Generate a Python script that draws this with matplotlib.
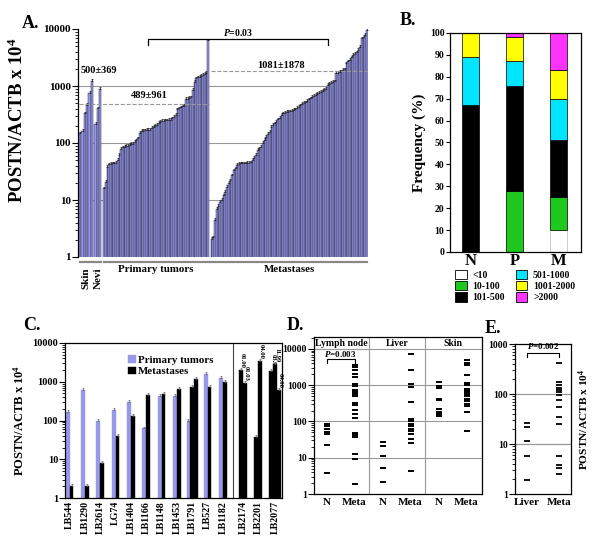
import numpy as np
import matplotlib.pyplot as plt
import matplotlib.transforms as mtransforms
from matplotlib.patches import Patch
from matplotlib.ticker import FixedLocator, FixedFormatter, LogLocator, NullFormatter

plt.rcParams['font.family'] = ['Liberation Serif', 'DejaVu Serif']
plt.rcParams['font.weight'] = 'bold'
plt.rcParams['axes.labelweight'] = 'bold'
plt.rcParams['mathtext.fontset'] = 'custom'
plt.rcParams['mathtext.rm'] = 'Liberation Serif:bold'
plt.rcParams['mathtext.it'] = 'Liberation Serif:italic:bold'
plt.rcParams['axes.linewidth'] = 0.9

# -------- data: panel A (POSTN/ACTB x 10^4, sorted per group) --------
skin = [148, 164, 330, 465, 760, 1240]
nevi = [215, 405, 880]
primary = [16, 21, 38, 42, 43, 44, 44, 45, 50, 62, 80, 84, 86, 88, 90, 93, 96, 98,
           105, 112, 120, 152, 162, 165, 166, 168, 170, 172, 185, 190, 200, 210, 225,
           238, 245, 248, 250, 250, 252, 258, 270, 290, 310, 390, 405, 420, 440, 445,
           590, 600, 615, 630, 850, 1190, 1370, 1420, 1460, 1500, 1560, 1620, 1710, 6300]
metastases = [2.1, 2.2, 4.5, 7, 8, 9.3, 10, 12, 14, 17, 20, 22, 27, 33, 36, 41, 43, 44,
              44, 44, 44, 45, 45, 46, 50, 55, 62, 75, 80, 85, 100, 113, 130, 145, 155,
              190, 210, 220, 235, 260, 280, 310, 330, 340, 350, 355, 360, 370, 380, 390,
              410, 430, 460, 480, 500, 520, 550, 580, 610, 640, 670, 700, 720, 750, 780,
              820, 850, 900, 1050, 1100, 1150, 1180, 1200, 1700, 1720, 1760, 1800, 1900,
              1950, 2500, 2700, 2900, 3200, 3500, 3700, 3900, 4300, 4800, 6900, 7300,
              7800, 9700]
group_names = ['Skin', 'Nevi', 'Primary tumors', 'Metastases']
mean_primary = 489
mean_meta = 1850

# -------- data: panel B (frequency %, stacked) --------
b_groups = ['N', 'P', 'M']
b_classes = ['<10', '10-100', '101-500', '501-1000', '1001-2000', '>2000']
b_colors = ['white', '#1ec81e', 'black', '#00e5ff', '#ffff00', '#ff33ff']
b_values = {
    '<10':       [0, 0, 10],
    '10-100':    [0, 28, 15],
    '101-500':   [67, 48, 26],
    '501-1000':  [22, 11, 19],
    '1001-2000': [11, 11, 13],
    '>2000':     [0, 2, 17],
}

# -------- data: panel C (paired samples) --------
c_samples = ['LB544', 'LB1290', 'LB2614', 'LG74', 'LB1404', 'LB1166', 'LB1148',
             'LB1453', 'LB1791', 'LB527', 'LB1182', 'LB2174', 'LB2201', 'LB2077']
c_primary = [170, 630, 100, 188, 300, 63, 440, 440, 100, 1600, 1260, None, None, None]
c_metastases = [[2.1], [2.1], [8.2], [40], [130], [460], [490], [660], [730, 1200],
                [730], [1000], [2000, 950], [38, 3500], [1950, 2900, 630]]
c_dates = [[], [], [], [], [], [], [], [], [], [], [], ['01.00', '01.03'],
           ['04.00', '04.00'], ['03.99', '11.99', '04.00']]

# -------- data: panel D (per-sample dots) --------
d_sites = ['Lymph node', 'Liver', 'Skin']
d_normal = [
    [85, 75, 62, 50, 45, 22, 3.9],
    [26.6, 21.5, 11.4, 5.3, 2.1],
    [1240, 950, 820, 430, 390, 215, 185, 158, 140],
]
d_meta = [
    [3600, 3100, 2600, 2100, 1700, 1050, 950, 720, 680, 650, 610, 580, 490, 320, 290,
     210, 165, 125, 48, 45, 42, 38, 13, 9.5, 1.9],
    [7100, 2600, 1110, 900, 340, 118, 100, 86, 75, 63, 53, 44, 33, 26, 4.4],
    [4950, 4200, 3600, 1900, 1150, 1080, 1000, 810, 750, 690, 640, 590, 540, 490, 425,
     370, 310, 260, 182, 56],
]

# -------- data: panel E --------
e_liver = [26.7, 22.3, 11.6, 5.75, 1.9]
e_meta = [410, 176, 150, 130, 120, 111, 96, 76, 54, 35, 25, 5.75, 3.8, 3.3, 2.5]

bar_blue = '#9898e8'
grey = '#999999'


def log_ticks(ax, ticks, size=7):
    ax.set_yscale('log')
    ax.yaxis.set_major_locator(FixedLocator(ticks))
    ax.yaxis.set_major_formatter(FixedFormatter([str(t) for t in ticks]))
    ax.yaxis.set_minor_locator(LogLocator(base=10, subs=np.arange(2, 10)))
    ax.yaxis.set_minor_formatter(NullFormatter())
    ax.tick_params(axis='y', which='major', length=4, width=0.8, labelsize=size, pad=1)
    ax.tick_params(axis='y', which='minor', length=2.5, width=0.6)


fig = plt.figure(figsize=(6, 5.43), dpi=100)
W, H = 600, 543


def rect(x0, y0, x1, y1):
    return [x0 / W, 1 - y1 / H, (x1 - x0) / W, (y1 - y0) / H]


# ================= A =================
axA = fig.add_axes(rect(78, 29, 368, 257))
groups = [skin, nevi, primary, metastases]
steps = [1.37, 1.37, 1.0, 1.0]
starts, ends = [], []
pos = 0.0
xs_all, vs_all, ws_all = [], [], []
for g, st in zip(groups, steps):
    xs = pos + np.arange(len(g)) * st
    starts.append(xs[0] - st / 2)
    ends.append(xs[-1] + st / 2)
    xs_all.extend(xs)
    vs_all.extend(g)
    ws_all.extend([st] * len(g))
    pos = xs[-1] + st / 2 + 1.0 + 0.5
xs_all = np.array(xs_all)
vs_all = np.array(vs_all, dtype=float)
for yv in [10, 100, 1000]:
    axA.axhline(yv, color=grey, lw=0.8, zorder=0)
axA.bar(xs_all, vs_all, width=ws_all, color=bar_blue, edgecolor='#2a2a44', linewidth=0.35,
        zorder=2)
axA.errorbar(xs_all, vs_all, yerr=[np.zeros_like(vs_all), vs_all * 0.07], fmt='none',
             ecolor='#222222', elinewidth=0.5, capsize=0.7, capthick=0.5, zorder=3)
log_ticks(axA, [1, 10, 100, 1000, 10000], size=8)
axA.set_ylim(1, 10000)
axA.set_xlim(starts[0] - 0.6, ends[3] + 0.1)
axA.set_xticks([])
for s in ['top', 'right', 'bottom']:
    axA.spines[s].set_visible(False)
axA.set_ylabel('POSTN/ACTB x 10$^4$', fontsize=13.5)
axA.yaxis.set_label_coords(-0.176, 0.6)

axA.plot([starts[0], ends[2]], [mean_primary] * 2, ls='--', color=grey, lw=0.8, zorder=4)
axA.plot([starts[3], ends[3]], [mean_meta] * 2, ls='--', color=grey, lw=0.8, zorder=4)

trA = mtransforms.blended_transform_factory(axA.transData, axA.transAxes)
for i, g in enumerate(groups):
    axA.plot([starts[i] + 0.3, ends[i] - 0.3], [-0.022, -0.022], color='#888888', lw=1.6,
             transform=trA, clip_on=False)
    cx = (starts[i] + ends[i]) / 2
    if i < 2:
        axA.text(cx, -0.045, group_names[i], rotation=90, ha='center', va='top',
                 fontsize=8, transform=trA)
    else:
        axA.text(cx, -0.035, group_names[i], ha='center', va='top', fontsize=7.8,
                 transform=trA)

axA.text(ends[1] - 1.5, 1900, '500±369', ha='center', va='center', fontsize=7.5)
axA.text(starts[2] + 27, 680, '489±961', ha='center', va='center', fontsize=7.5)
axA.text(starts[3] + 41, 2250, '1081±1878', ha='center', va='center', fontsize=7.5)
bl, br = starts[2] + 26, starts[3] + 68.5
axA.plot([bl, bl, br, br], [5200, 6700, 6700, 5200], color='black', lw=0.9, zorder=5)
axA.text((bl + br) / 2, 6900, '$P$=0.03', ha='center', va='bottom', fontsize=7)

# ================= B =================
axB = fig.add_axes(rect(450, 33, 581, 252))
xb = np.arange(len(b_groups))
bottom = np.zeros(len(b_groups))
for cls, col in zip(b_classes, b_colors):
    vals = np.array(b_values[cls], dtype=float)
    axB.bar(xb, vals, bottom=bottom, width=0.39, color=col,
            edgecolor='black' if col != 'white' else '#bbbbbb', linewidth=0.5, label=cls)
    bottom += vals
axB.set_xlim(-0.47, 2.51)
axB.set_ylim(0, 100)
axB.set_yticks(np.arange(0, 101, 10))
axB.set_xticks(xb)
axB.set_xticklabels(b_groups, fontsize=12)
axB.tick_params(axis='x', length=0, pad=1)
axB.tick_params(axis='y', length=3, labelsize=7, pad=1)
axB.set_ylabel('Frequency (%)', fontsize=11, labelpad=3)
handles = [Patch(facecolor=c, edgecolor='black', linewidth=0.6) for c in b_colors]
axB.legend(handles, b_classes, ncol=2, loc='upper left', bbox_to_anchor=(0.0, -0.06),
           frameon=False, fontsize=7, handlelength=1.2, handleheight=1.1,
           handletextpad=0.6, columnspacing=1.1, labelspacing=0.12, borderpad=0)

# ================= C =================
axC = fig.add_axes(rect(65, 343, 282, 498))
c_pos = [0, 1, 2, 3, 4, 5, 6, 7, 8, 9, 10, 11.3, 12.3, 13.4]
bw = 0.25
prim_drawn = False
meta_drawn = False
for i, xc in enumerate(c_pos):
    items = []
    if c_primary[i] is not None:
        items.append(('p', c_primary[i]))
    for m in c_metastases[i]:
        items.append(('m', m))
    n = len(items)
    offs = (np.arange(n) - (n - 1) / 2) * bw
    mi = 0
    for (kind, v), o in zip(items, offs):
        if kind == 'p':
            axC.bar(xc + o, v, width=bw, color=bar_blue, edgecolor=bar_blue, lw=0.3,
                    label='Primary tumors' if not prim_drawn else None, zorder=2)
            prim_drawn = True
        else:
            axC.bar(xc + o, v, width=bw, color='black', edgecolor='black', lw=0.3,
                    label='Metastases' if not meta_drawn else None, zorder=2)
            meta_drawn = True
            if c_dates[i]:
                axC.text(xc + o + 0.1, v * 1.1, c_dates[i][mi], rotation=270, ha='center',
                         va='bottom', fontsize=4.8)
            mi += 1
        axC.errorbar([xc + o], [v], yerr=[[0], [v * 0.1]], fmt='none', ecolor='#666666',
                     elinewidth=0.5, capsize=0.8, capthick=0.5, zorder=3)
axC.axvline(10.65, color='#444444', lw=0.8)
log_ticks(axC, [1, 10, 100, 1000, 10000], size=7.5)
axC.set_ylim(1, 10000)
axC.set_xlim(-0.3, 13.85)
axC.set_xticks(c_pos)
axC.set_xticklabels(c_samples, rotation=90, fontsize=7.2)
axC.tick_params(axis='x', length=0, pad=2)
axC.set_ylabel('POSTN/ACTB x 10$^4$', fontsize=9)
axC.yaxis.set_label_coords(-0.175, 0.5)
axC.legend(loc='upper left', bbox_to_anchor=(0.265, 0.955), frameon=False, fontsize=7.8,
           handlelength=0.7, handleheight=0.7, handletextpad=0.2, labelspacing=0.15,
           borderpad=0)

# ================= D =================
axD = fig.add_axes(rect(314, 337, 482, 494))
for yv in [10, 100, 1000, 10000]:
    axD.axhline(yv, color=grey, lw=0.8, zorder=0)
for xv in [1.95, 3.95]:
    axD.axvline(xv, color=grey, lw=0.8, zorder=0)
d_x = []
d_lab = []
for k, site in enumerate(d_sites):
    xn = 0.45 + 2 * k
    xm = 1.45 + 2 * k
    axD.plot([xn] * len(d_normal[k]), d_normal[k], ls='none', marker='_', ms=5, mew=1.4,
             color='black')
    axD.plot([xm] * len(d_meta[k]), d_meta[k], ls='none', marker='_', ms=5, mew=1.4,
             color='black')
    axD.text(0.975 + 2 * k, 14500, site, ha='center', va='center', fontsize=7)
    d_x += [xn, xm]
    d_lab += ['N', 'Meta']
axD.plot([0.45, 0.45, 1.45, 1.45], [4000, 5200, 5200, 4000], color='black', lw=0.8)
axD.text(0.95, 7400, '$P$=0.003', ha='center', va='center', fontsize=6.5)
log_ticks(axD, [1, 10, 100, 1000, 10000], size=7)
axD.set_ylim(1, 21400)
axD.set_xlim(0, 6)
axD.set_xticks(d_x)
axD.set_xticklabels(d_lab, fontsize=8)
axD.tick_params(axis='x', length=0, pad=3)

# ================= E =================
axE = fig.add_axes(rect(515, 344, 571, 494))
for yv in [10, 100]:
    axE.axhline(yv, color=grey, lw=0.9, zorder=0)
axE.plot([0.43] * len(e_liver), e_liver, ls='none', marker='_', ms=4.5, mew=1.3, color='black')
axE.plot([1.57] * len(e_meta), e_meta, ls='none', marker='_', ms=4.5, mew=1.3, color='black')
axE.plot([0.43, 0.43, 1.57, 1.57], [550, 660, 660, 550], color='black', lw=0.8)
axE.text(1.0, 900, '$P$=0.002', ha='center', va='center', fontsize=6.5)
log_ticks(axE, [1, 10, 100, 1000], size=7)
axE.set_ylim(1, 1000)
axE.set_xlim(0, 2)
axE.set_xticks([0.43, 1.57])
axE.set_xticklabels(['Liver', 'Meta'], fontsize=8)
axE.tick_params(axis='x', length=0, pad=3)
axE.yaxis.set_label_position('right')
axE.set_ylabel('POSTN/ACTB x 10$^4$', fontsize=8.2, rotation=90, labelpad=4)

# ---- panel letters ----
for lab, x, y in [('A.', 22, 15), ('B.', 400, 12), ('C.', 23, 317), ('D.', 287, 317),
                  ('E.', 485, 320)]:
    fig.text(x / W, 1 - y / H, lab, ha='left', va='top', fontsize=13)

fig.savefig('out.png', dpi=100)
